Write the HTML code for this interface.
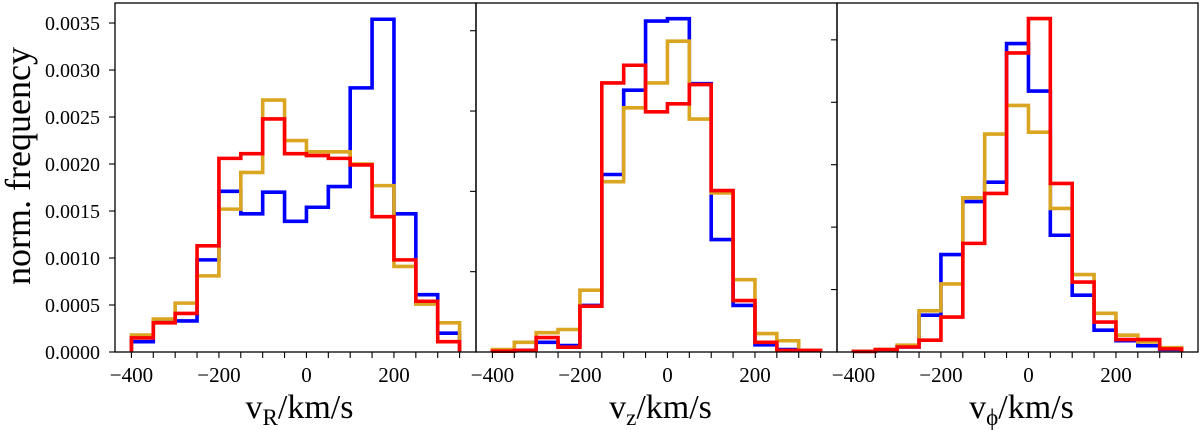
<!DOCTYPE html>
<html><head><meta charset="utf-8"><style>
html,body{margin:0;padding:0;background:#fff;}
svg{display:block;font-family:"Liberation Serif",serif;}
</style></head><body>
<svg id="chart" width="1200" height="430" viewBox="0 0 1200 430" xmlns="http://www.w3.org/2000/svg">
<text x="0" y="0" transform="translate(30,166) rotate(-90)" text-anchor="middle" font-size="36">norm. frequency</text>
</svg>
<script>
const binEdges = [-400,-350,-300,-250,-200,-150,-100,-50,0,50,100,150,200,250,300,350];
const xTicks = [-400,-200,0,200];
const xTickLabels = ["\u2212400","\u2212200","0","200"];
const yTicks1 = [0,0.0005,0.001,0.0015,0.002,0.0025,0.003,0.0035];
const yTickLabels1 = ["0.0000","0.0005","0.0010","0.0015","0.0020","0.0025","0.0030","0.0035"];
const yTicks2 = [0.001,0.002,0.003,0.004];
const yTicks3 = [0.001,0.002,0.003,0.004,0.005];
const vrBlue = [0.00011,0.00032,0.00033,0.00098,0.00171,0.00147,0.00170,0.00139,0.00154,0.00176,0.00281,0.00354,0.00147,0.00061,0.00020];
const vrGold = [0.00018,0.00035,0.00052,0.00081,0.00152,0.00191,0.00268,0.00225,0.00213,0.00213,0.00200,0.00177,0.00091,0.00051,0.00031];
const vrRed  = [0.00015,0.00031,0.00041,0.00113,0.00206,0.00211,0.00248,0.00211,0.00209,0.00206,0.00199,0.00144,0.00098,0.00054,0.00011];
const vzBlue = [0.00001,0.00002,0.00012,0.00008,0.00058,0.00221,0.00326,0.00412,0.00415,0.00334,0.00140,0.00058,0.00009,0.00003,0.00002];
const vzGold = [0.00003,0.00012,0.00024,0.00028,0.00077,0.00212,0.00304,0.00335,0.00387,0.00290,0.00198,0.00090,0.00023,0.00014,0.00002];
const vzRed  = [0.00001,0.00002,0.00018,0.00006,0.00057,0.00335,0.00357,0.00299,0.00309,0.00333,0.00201,0.00064,0.00012,0.00002,0.00002];
const vpBlue = [0.00001,0.00003,0.00008,0.00059,0.00156,0.00241,0.00272,0.00494,0.00418,0.00187,0.00091,0.00035,0.00018,0.00010,0.00004];
const vpGold = [0.00001,0.00004,0.00011,0.00066,0.00109,0.00247,0.00349,0.00395,0.00352,0.00230,0.00124,0.00062,0.00027,0.00016,0.00007];
const vpRed  = [0.00001,0.00004,0.00008,0.00019,0.00056,0.00174,0.00254,0.00479,0.00534,0.00270,0.00112,0.00048,0.00020,0.00020,0.00005];

const NS="http://www.w3.org/2000/svg";
const svg=document.getElementById('chart');
function mk(tag,attrs,parent){const e=document.createElementNS(NS,tag);for(const k in attrs)e.setAttribute(k,attrs[k]);(parent||svg).appendChild(e);return e;}
const TOP=3,BOT=352;
const panels=[
 {name:'vr',x0:115,x1:476,ymax:0.003713,series:[vrBlue,vrGold,vrRed],yt:yTicks1,labels:true,title:'R'},
 {name:'vz',x0:476,x1:837,ymax:0.004345,series:[vzBlue,vzGold,vzRed],yt:yTicks2,labels:false,title:'z'},
 {name:'vphi',x0:837,x1:1198,ymax:0.005590,series:[vpBlue,vpGold,vpRed],yt:yTicks3,labels:false,title:'\u03d5'}
];
const colors=['#0000ff','#daa520','#ff0000'];
const snames=['blue','gold','red'];
panels.forEach(p=>{
  const g=mk('g',{});
  
  
  const xs=v=>p.x0+(v+437.5)/825*(p.x1-p.x0);
  const ys=v=>BOT-v/p.ymax*(BOT-TOP);
  p.series.forEach((vals,si)=>{
    let d='M'+xs(binEdges[0])+','+ys(0);
    vals.forEach((v,i)=>{d+=' L'+xs(binEdges[i])+','+ys(v)+' L'+xs(binEdges[i+1])+','+ys(v);});
    d+=' L'+xs(binEdges[binEdges.length-1])+','+ys(0);
    const path=mk('path',{d:d,fill:'none',stroke:colors[si],'stroke-width':3.6,'stroke-linejoin':'miter'},g);
    
    
  });
  const fr=mk('rect',{x:p.x0,y:TOP,width:p.x1-p.x0,height:BOT-TOP,fill:'none',stroke:'#000','stroke-width':1.3},g);
  
  
  binEdges.forEach(v=>{mk('line',{x1:xs(v),x2:xs(v),y1:BOT,y2:BOT+6,stroke:'#000','stroke-width':1.1},g);});
  xTicks.forEach((v,i)=>{
    const t=mk('text',{x:xs(v),y:BOT+30,'text-anchor':'middle','font-size':21},g);
    
    
    t.textContent=xTickLabels[i];
  });
  p.yt.forEach((v,i)=>{
    mk('line',{x1:p.x0-6,x2:p.x0,y1:ys(v),y2:ys(v),stroke:'#000','stroke-width':1.1},g);
    if(p.labels){
      const t=mk('text',{x:p.x0-15,y:ys(v)+7,'text-anchor':'end','font-size':20},g);
      
      
      t.textContent=yTickLabels1[i];
    }
  });
  const xt=mk('text',{x:(p.x0+p.x1)/2+4,y:418,'text-anchor':'middle','font-size':34},g);
  
  
  xt.innerHTML='v<tspan font-size="23" dy="7">'+p.title+'</tspan><tspan dy="-7">/km/s</tspan>';
});
</script>
</body></html>
